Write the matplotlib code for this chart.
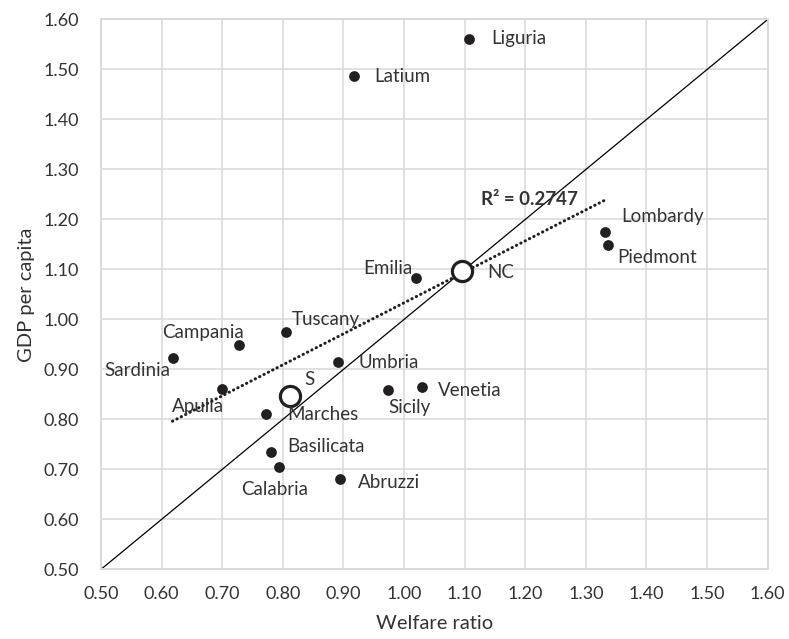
import numpy as np
import matplotlib.pyplot as plt

plt.rcParams['font.family'] = ['Lato', 'DejaVu Sans']

# Regions: welfare ratio (x) vs GDP per capita (y)
regions = ['Liguria', 'Latium', 'Lombardy', 'Piedmont', 'Emilia', 'Tuscany',
           'Campania', 'Sardinia', 'Apulia', 'Umbria', 'Marches', 'Basilicata',
           'Calabria', 'Abruzzi', 'Sicily', 'Venetia']
welfare = [1.108, 0.917, 1.331, 1.336, 1.019, 0.805, 0.728, 0.618, 0.700,
           0.891, 0.772, 0.781, 0.794, 0.894, 0.974, 1.029]
gdp = [1.561, 1.486, 1.174, 1.149, 1.082, 0.974, 0.948, 0.922, 0.861,
       0.914, 0.810, 0.734, 0.704, 0.681, 0.859, 0.864]

# Macro-area averages (open circles)
areas = ['NC', 'S']
area_welfare = [1.095, 0.812]
area_gdp = [1.096, 0.846]

r2_label = 'R² = 0.2747'

# label offsets in pixels (dx, dy, ha)
offsets = {
    'Liguria': (22, 0, 'left'), 'Latium': (21, 0, 'left'),
    'Lombardy': (17, 16, 'left'), 'Piedmont': (10, -13, 'left'),
    'Emilia': (-3, 10, 'right'), 'Tuscany': (6, 13, 'left'),
    'Campania': (5, 13, 'right'), 'Sardinia': (-2, -12, 'right'),
    'Apulia': (2, -18, 'right'), 'Umbria': (21, 0, 'left'),
    'Marches': (21, 0, 'left'), 'Basilicata': (16, 6, 'left'),
    'Calabria': (-5, -22, 'center'), 'Abruzzi': (18, -4, 'left'),
    'Sicily': (0, -18, 'left'), 'Venetia': (16, -3, 'left'),
    'NC': (26, -1, 'left'), 'S': (14, 17, 'left'),
}

txt = '#333333'
grid = '#d9d9d9'
dot = '#231f20'

fig = plt.figure(figsize=(7.89, 6.39), dpi=100)
ax = fig.add_axes([0.128, 0.109, 0.845, 0.8605])

ax.plot([0.5, 1.6], [0.5, 1.6], color='black', lw=0.9, zorder=2)

# linear trend over regions
w = np.array(welfare)
g = np.array(gdp)
slope, icpt = np.polyfit(w, g, 1)
xs = np.array([w.min(), w.max()])
ax.plot(xs, slope * xs + icpt, color=dot, lw=2.2, linestyle=(0, (0.1, 1.5)),
        dash_capstyle='round', zorder=3)
ax.text(0.570, 0.673, r2_label, transform=ax.transAxes, fontsize=13.5,
        fontweight='bold', color=txt, va='center', ha='left')

ax.scatter(welfare, gdp, s=60, color=dot, zorder=4, linewidths=0)
ax.plot(area_welfare, area_gdp, 'o', ms=14.5, mfc='white', mec=dot, mew=2.3,
        zorder=5, linestyle='none')

for name, x, y in list(zip(regions, welfare, gdp)) + list(zip(areas, area_welfare, area_gdp)):
    dx, dy, ha = offsets[name]
    ax.annotate(name, (x, y), xytext=(dx, dy), textcoords='offset pixels',
                ha=ha, va='center', fontsize=13.5, color=txt, zorder=6)

ax.set_xlim(0.5, 1.6)
ax.set_ylim(0.5, 1.6)
ticks = np.round(np.arange(0.5, 1.61, 0.1), 2)
ax.set_xticks(ticks)
ax.set_yticks(ticks)
ax.set_xticklabels([f'{t:.2f}' for t in ticks])
ax.set_yticklabels([f'{t:.2f}' for t in ticks])
ax.tick_params(length=0, labelsize=13, labelcolor=txt)
ax.tick_params(axis='x', pad=12)
ax.tick_params(axis='y', pad=16)
ax.grid(True, color=grid, lw=1.1, zorder=0)
ax.set_axisbelow(True)
for sp in ax.spines.values():
    sp.set_color(grid)
    sp.set_linewidth(1.4)

ax.set_xlabel('Welfare ratio', fontsize=14.5, color=txt, labelpad=9)
ax.set_ylabel('GDP per capita', fontsize=14.5, color=txt, labelpad=6)

fig.savefig('out.png', dpi=100)
